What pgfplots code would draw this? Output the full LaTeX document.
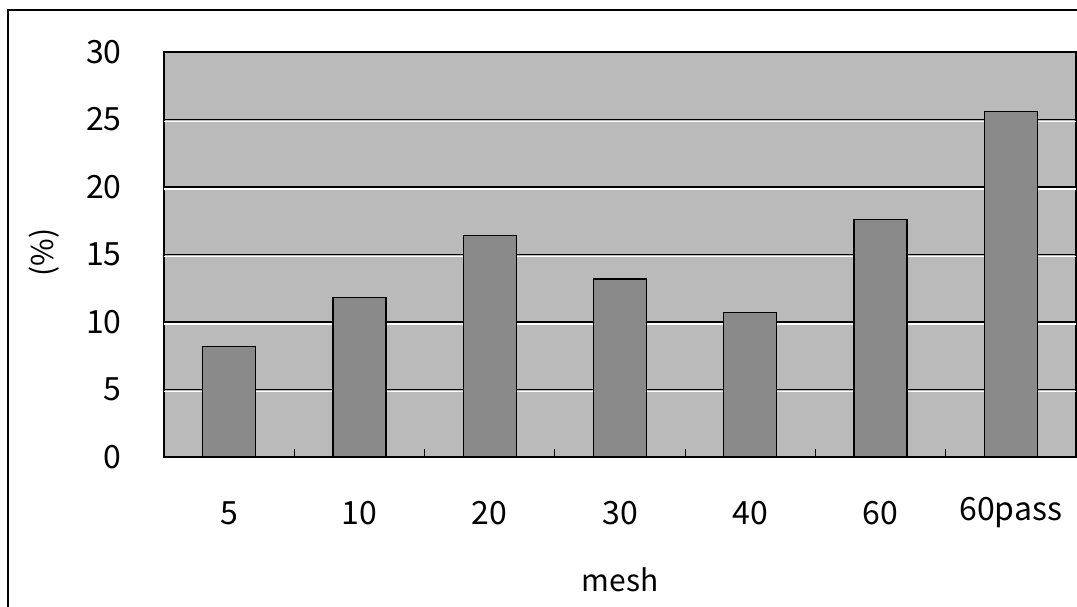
\documentclass[border=0pt]{standalone}
\usepackage{fontspec}
\setmainfont{Noto Sans CJK JP}
\usepackage{pgfplots}
\pgfplotsset{compat=1.18}
\definecolor{bgc}{RGB}{186,186,186}
\definecolor{barc}{RGB}{138,138,138}
\begin{document}
\begin{tikzpicture}
\path[use as bounding box] (0pt,0pt) rectangle (538.5pt,303pt);
\draw[line width=0.8pt] (4pt,-2pt) -- (4pt,298pt) -- (541pt,298pt);
\begin{axis}[
  at={(82pt,74.5pt)}, anchor=south west,
  scale only axis, width=456pt, height=202.5pt,
  xmin=-0.5, xmax=6.5, ymin=0, ymax=30,
  ytick={0,5,...,30},
  xtick={0,...,6},
  xticklabels={5,10,20,30,40,60,60pass},
  extra x ticks={0.5,1.5,...,5.5},
  extra x tick labels={},
  extra x tick style={major tick length=4pt, tick align=inside, xmajorgrids=false},
  major tick length=0pt,
  ymajorgrids,
  major grid style={black, line width=0.7pt},
  axis line style={black, line width=0.7pt},
  axis background/.style={fill=bgc},
  tick style={black, line width=0.6pt},
  tick pos=bottom,
  /pgf/number format/assume math mode=true,
  ticklabel style={font=\fontsize{16}{19}\selectfont},
  yticklabel style={anchor=east, inner sep=0pt, xshift=-21pt},
  xticklabel style={anchor=center, inner sep=0pt, yshift=-28pt},
  xlabel={mesh},
  ylabel={(\%)},
  label style={font=\fontsize{15}{18}\selectfont},
  xlabel style={at={(axis description cs:0.5,-0.304)}, anchor=center},
  ylabel style={at={(axis description cs:-0.131,0.505)}, anchor=center, rotate=0},
  ybar, bar width=26.5pt,
]
\pgfplotsinvokeforeach{5,10,15,20,25}{
  \draw[white, line width=0.6pt] ([yshift=-1pt]axis cs:-0.5,#1) -- ([yshift=-1pt]axis cs:6.5,#1);
}
\addplot[fill=barc, draw=black, line width=0.7pt] coordinates {
  (0,8.2) (1,11.8) (2,16.4) (3,13.2) (4,10.7) (5,17.6) (6,25.6)
};
\end{axis}
\end{tikzpicture}
\end{document}
